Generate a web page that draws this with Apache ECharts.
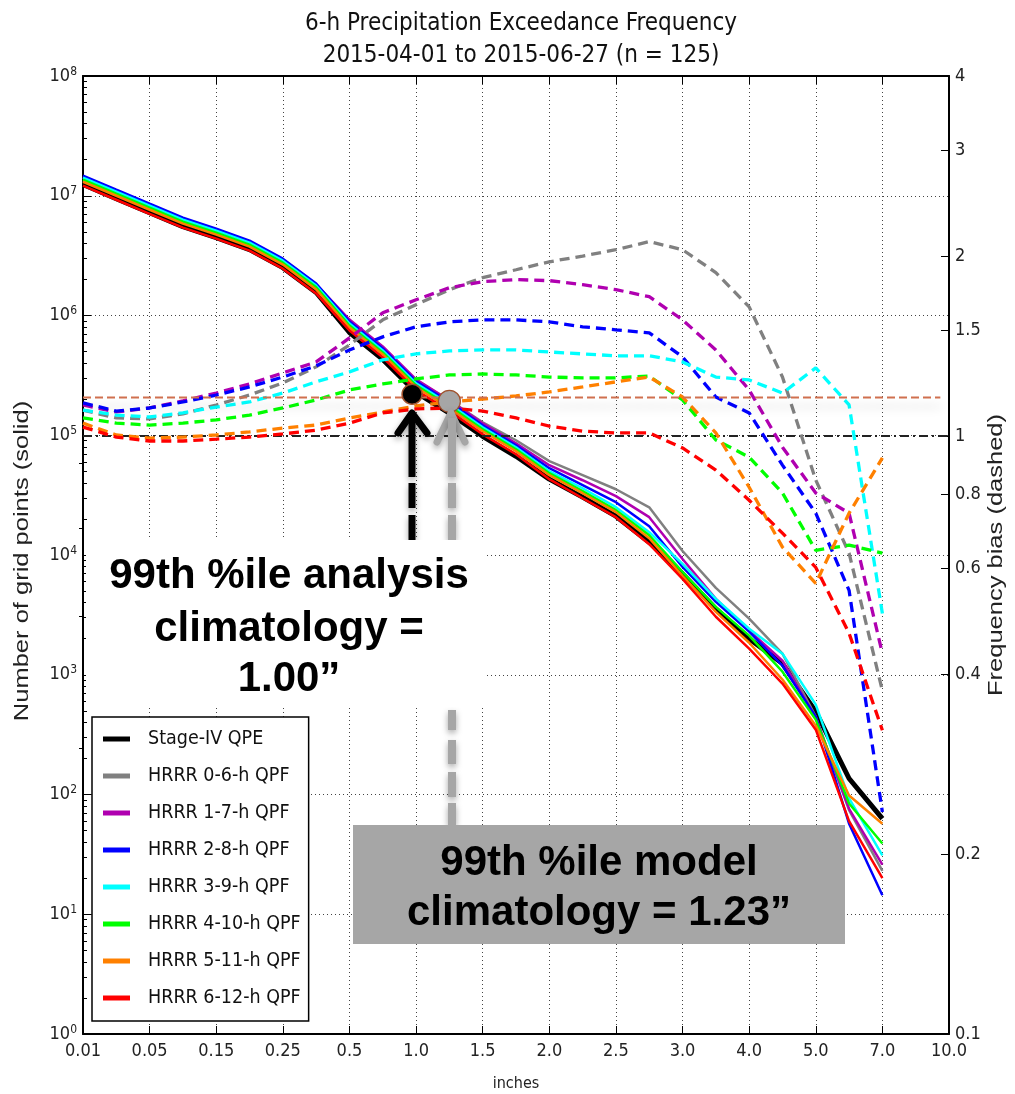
<!DOCTYPE html>
<html><head><meta charset="utf-8">
<script src="https://cdn.jsdelivr.net/npm/echarts@6/dist/echarts.min.js"></script>
<style>html,body{margin:0;padding:0;background:#fff}#c{width:1015px;height:1094px}</style>
</head><body><div id="c"></div>
<script>
// ---------------- data ----------------
const xTickLabels = ['0.01','0.05','0.15','0.25','0.5','1.0','1.5','2.0','2.5','3.0','4.0','5.0','7.0','10.0'];
// threshold positions on the (evenly spaced) inches axis, in tick units
const xPositions = [0,0.5,1,1.5,2,2.5,3,3.5,4,4.5,5,5.5,6,6.5,7,7.5,8,8.5,9,9.5,10,10.5,11,11.5,12];

const seriesNames = ['Stage-IV QPE','HRRR 0-6-h QPF','HRRR 1-7-h QPF','HRRR 2-8-h QPF','HRRR 3-9-h QPF','HRRR 4-10-h QPF','HRRR 5-11-h QPF','HRRR 6-12-h QPF'];
const seriesColors = ['#000000','#808080','#b000b0','#0000ff','#00ffff','#00ff00','#ff8000','#ff0000'];

// number of grid points (solid, left axis)
const stageIV = [1.24e7,9.44e6,7.21e6,5.52e6,4.47e6,3.55e6,2.51e6,1.56e6,7.21e5,4.30e5,2.28e5,1.53e5,9.8e4,6.68e4,4.30e4,3.04e4,2.11e4,1.28e4,6950,3550,2000,1240,492,136,63];
const hrrr06  = [1.335e7,1.02e7,7.79e6,5.96e6,4.83e6,3.83e6,2.71e6,1.68e6,8.74e5,5.31e5,2.87e5,1.96e5,1.28e5,9.08e4,6.08e4,4.64e4,3.54e4,2.50e4,10800,5310,2940,1500,447,74,23];
const hrrr17  = [1.441e7,1.101e7,8.41e6,6.44e6,5.21e6,4.14e6,2.93e6,1.82e6,9.25e5,5.52e5,2.93e5,1.96e5,1.257e5,8.57e4,5.62e4,4.21e4,3.10e4,2.07e4,9270,4300,2330,1310,438,76,26];
const hrrr28  = [1.47e7,1.122e7,8.57e6,6.56e6,5.31e6,4.22e6,2.98e6,1.85e6,8.90e5,5.31e5,2.82e5,1.89e5,1.21e5,8.25e4,5.31e4,3.83e4,2.76e4,1.74e4,7950,4060,2290,1190,447,57,14.4];
const hrrr39  = [1.414e7,1.08e7,8.25e6,6.31e6,5.11e6,4.06e6,2.87e6,1.78e6,8.57e5,5.11e5,2.71e5,1.82e5,1.165e5,7.94e4,5.01e4,3.61e4,2.51e4,1.55e4,8420,4300,2420,1500,563,93,31];
const hrrr410 = [1.361e7,1.039e7,7.94e6,6.08e6,4.92e6,3.91e6,2.76e6,1.72e6,8.25e5,4.92e5,2.61e5,1.75e5,1.121e5,7.64e4,4.82e4,3.41e4,2.37e4,1.46e4,7220,3690,2120,1060,422,84,39];
const hrrr511 = [1.309e7,1.0e7,7.64e6,5.85e6,4.73e6,3.76e6,2.66e6,1.65e6,7.94e5,4.73e5,2.51e5,1.68e5,1.079e5,7.35e4,4.64e4,3.28e4,2.28e4,1.38e4,6690,3350,1850,913,376,98,57];
const hrrr612 = [1.213e7,9.26e6,7.07e6,5.42e6,4.39e6,3.48e6,2.46e6,1.53e6,7.49e5,4.47e5,2.37e5,1.59e5,1.018e5,6.94e4,4.30e4,2.98e4,2.07e4,1.23e4,6320,3050,1650,844,348,60,20];

// frequency bias (dashed, right axis)
const bias06  = [1.105,1.072,1.068,1.089,1.127,1.171,1.227,1.305,1.420,1.564,1.658,1.757,1.840,1.897,1.956,2.0,2.049,2.114,2.049,1.876,1.644,1.255,0.844,0.637,0.375];
const bias17  = [1.127,1.097,1.114,1.145,1.180,1.222,1.275,1.330,1.459,1.607,1.690,1.770,1.812,1.826,1.819,1.791,1.757,1.710,1.564,1.393,1.194,0.958,0.803,0.743,0.433];
const bias28  = [1.136,1.101,1.114,1.140,1.171,1.208,1.255,1.310,1.393,1.465,1.523,1.552,1.564,1.564,1.552,1.523,1.505,1.488,1.356,1.162,1.093,0.894,0.743,0.552,0.235];
const bias39  = [1.105,1.084,1.076,1.093,1.118,1.140,1.180,1.232,1.280,1.341,1.372,1.388,1.393,1.393,1.382,1.372,1.362,1.362,1.330,1.255,1.241,1.180,1.300,1.127,0.505];
const bias410 = [1.072,1.051,1.043,1.051,1.064,1.084,1.114,1.149,1.194,1.222,1.246,1.265,1.270,1.265,1.255,1.251,1.251,1.260,1.149,0.985,0.922,0.803,0.644,0.657,0.637];
const bias511 = [1.051,1.004,0.992,0.996,1.004,1.016,1.031,1.043,1.072,1.097,1.123,1.140,1.153,1.167,1.185,1.208,1.232,1.255,1.162,1.012,0.821,0.652,0.567,0.743,0.919];
const bias612 = [1.035,0.996,0.981,0.981,0.988,0.996,1.008,1.023,1.051,1.093,1.110,1.114,1.101,1.072,1.039,1.019,1.012,1.012,0.955,0.877,0.781,0.688,0.603,0.468,0.322];

// axis tick labels
const leftMajorTicks = [1,1e1,1e2,1e3,1e4,1e5,1e6,1e7,1e8];
const rightTickLabels = [0.1,0.2,0.4,0.6,0.8,1,1.5,2,3,4];
const rightMinorTicks = [0.3,0.5,0.7,0.9];

// annotation values
const analysisCountLevel = 2.07e5;    // horizontal dashed reference (left axis)
const analysisLineEndX = 12.87;
const unityBias = 1;
const analysisMarker = [4.94, 2.2e5];   // 99th %ile analysis (1.00")
const modelMarker = [5.5, 1.92e5];      // 99th %ile model (1.23")

// ---------------- chart ----------------
const COND = "'DejaVu Sans Condensed','DejaVu Sans',sans-serif";
const ARIAL = "'Liberation Sans',Arial,sans-serif";
const zip = (vals) => xPositions.map((x, i) => [x, vals[i]]);

const countSets = [stageIV, hrrr06, hrrr17, hrrr28, hrrr39, hrrr410, hrrr511, hrrr612];
const biasSets = [bias06, bias17, bias28, bias39, bias410, bias511, bias612];

const leftMinor = [];
for (let e = 0; e < 8; e++) for (let m = 2; m <= 9; m++) leftMinor.push(m * Math.pow(10, e));

const series = [];
countSets.forEach((vals, i) => {
  series.push({
    name: seriesNames[i], type: 'line', xAxisIndex: 0, yAxisIndex: 0,
    data: zip(vals), symbol: 'none', silent: true, z: 2,
    lineStyle: { color: seriesColors[i], width: i === 0 ? 5 : 2.5 },
    itemStyle: { color: seriesColors[i] }
  });
});
// unity bias reference (dash-dot)
series.push({
  name: 'unity', type: 'line', xAxisIndex: 0, yAxisIndex: 1, symbol: 'none', silent: true, z: 3,
  data: [[0, unityBias], [13, unityBias]],
  lineStyle: { color: '#222', width: 2, type: [9, 4, 2, 4] }
});
biasSets.forEach((vals, i) => {
  series.push({
    name: seriesNames[i + 1] + ' bias', type: 'line', xAxisIndex: 0, yAxisIndex: 1,
    data: zip(vals), symbol: 'none', silent: true, z: 3,
    lineStyle: { color: seriesColors[i + 1], width: 3.3, type: [10, 6] }
  });
});
// 99th percentile count reference line
series.push({
  name: 'p99 level', type: 'line', xAxisIndex: 0, yAxisIndex: 0, symbol: 'none', silent: true, z: 4,
  data: [[0, analysisCountLevel], [analysisLineEndX, analysisCountLevel]],
  lineStyle: { color: '#d0704f', width: 2, type: [8, 4], shadowColor: 'rgba(0,0,0,0.25)', shadowBlur: 10, shadowOffsetY: 9 }
});
series.push({
  name: 'analysis marker', type: 'scatter', xAxisIndex: 0, yAxisIndex: 0, silent: true, z: 12,
  data: [analysisMarker], symbolSize: 20,
  itemStyle: { color: '#000', borderColor: '#a0522d', borderWidth: 1.5, opacity: 1 }
});
series.push({
  name: 'model marker', type: 'scatter', xAxisIndex: 0, yAxisIndex: 0, silent: true, z: 12,
  data: [modelMarker], symbolSize: 22,
  itemStyle: { color: '#a6a6a6', borderColor: '#a0522d', borderWidth: 1.2, opacity: 1 }
});

const arrowShadow = { shadowBlur: 6, shadowColor: 'rgba(0,0,0,0.35)', shadowOffsetY: 3 };
function seg(x, y1, y2, color, w) {
  return { type: 'line', z: 20, shape: { x1: x, y1: y1, x2: x, y2: y2 },
    style: Object.assign({ stroke: color, lineWidth: w, lineCap: 'butt' }, arrowShadow) };
}
const graphics = [
  // rotated axis titles (slightly compressed glyphs, as in the source image)
  { type: 'text', z: 5, x: 22, y: 561, rotation: Math.PI / 2, scaleY: 0.8,
    style: { text: 'Number of grid points (solid)', font: '25.5px ' + ARIAL, fill: '#222', align: 'center', verticalAlign: 'middle' } },
  { type: 'text', z: 5, x: 996, y: 555, rotation: Math.PI / 2, scaleY: 0.8,
    style: { text: 'Frequency bias (dashed)', font: '25.5px ' + ARIAL, fill: '#222', align: 'center', verticalAlign: 'middle' } },
  // arrows
  { type: 'polyline', z: 20, shape: { points: [[398, 433], [412, 413], [427, 433]] },
    style: Object.assign({ stroke: '#000', lineWidth: 7, lineCap: 'round', lineJoin: 'round', fill: null }, arrowShadow) },
  seg(412, 413, 477, '#000', 7), seg(412, 483, 508, '#000', 7), seg(412, 515, 540, '#000', 7),
  { type: 'polyline', z: 20, shape: { points: [[437, 442], [451, 413], [465, 442]] },
    style: Object.assign({ stroke: '#a6a6a6', lineWidth: 7, lineCap: 'round', lineJoin: 'round', fill: null }, arrowShadow) },
  seg(452, 418, 477, '#a6a6a6', 8), seg(452, 483, 508, '#a6a6a6', 8), seg(452, 515, 540, '#a6a6a6', 8),
  seg(452, 710, 730, '#a6a6a6', 8), seg(452, 740, 764, '#a6a6a6', 8), seg(452, 772, 797, '#a6a6a6', 8), seg(452, 803, 825, '#a6a6a6', 8),
  // white callout
  { type: 'rect', z: 30, shape: { x: 86, y: 540, width: 401, height: 167 }, style: { fill: '#fff' } },
  { type: 'text', z: 31, x: 289, y: 576, style: { text: '99th %ile analysis', font: 'bold 42px ' + ARIAL, fill: '#000', align: 'center', verticalAlign: 'middle' } },
  { type: 'text', z: 31, x: 289, y: 629, style: { text: 'climatology =', font: 'bold 42px ' + ARIAL, fill: '#000', align: 'center', verticalAlign: 'middle' } },
  { type: 'text', z: 31, x: 289, y: 679, style: { text: '1.00\u201D', font: 'bold 42px ' + ARIAL, fill: '#000', align: 'center', verticalAlign: 'middle' } },
  // gray callout
  { type: 'rect', z: 30, shape: { x: 353, y: 825, width: 492, height: 119 }, style: { fill: '#a6a6a6' } },
  { type: 'text', z: 31, x: 599, y: 863, style: { text: '99th %ile model', font: 'bold 42px ' + ARIAL, fill: '#000', align: 'center', verticalAlign: 'middle' } },
  { type: 'text', z: 31, x: 599, y: 913, style: { text: 'climatology = 1.23\u201D', font: 'bold 42px ' + ARIAL, fill: '#000', align: 'center', verticalAlign: 'middle' } }
];

const axisLineStyle = { color: '#000', width: 2 };
const option = {
  animation: false,
  backgroundColor: '#fff',
  textStyle: { fontFamily: COND },
  title: {
    text: '6-h Precipitation Exceedance Frequency\n2015-04-01 to 2015-06-27 (n = 125)',
    left: 516, top: 3, textAlign: 'center',
    textStyle: { fontFamily: COND, fontSize: 24, fontWeight: 'normal', color: '#111', lineHeight: 32 }
  },
  grid: { left: 83, right: 66, top: 76, bottom: 60, containLabel: false, outerBoundsMode: 'none' },
  legend: {
    data: seriesNames, orient: 'vertical', left: 92, top: 717,
    padding: [12, 8, 13, 11], itemGap: 17, itemWidth: 27, itemHeight: 5, icon: 'rect',
    backgroundColor: '#fff', borderColor: '#000', borderWidth: 1.5, borderRadius: 0,
    selectedMode: false, z: 25,
    textStyle: { fontFamily: COND, fontSize: 19.5, color: '#111', lineHeight: 20, padding: [0, 0, 0, 13] }
  },
  xAxis: [
    { type: 'value', position: 'bottom', min: 0, max: 13, interval: 1,
      name: 'inches', nameLocation: 'middle', nameGap: 42,
      nameTextStyle: { fontFamily: COND, fontSize: 16, color: '#222' },
      axisLine: { onZero: false, lineStyle: axisLineStyle },
      axisTick: { inside: true, length: 8, lineStyle: { color: '#000', width: 1 } },
      axisLabel: { fontFamily: COND, fontSize: 18, color: '#222', margin: 8,
        formatter: (v) => xTickLabels[Math.round(v)] || '' },
      splitLine: { show: true, lineStyle: { color: '#444', width: 1, type: [1, 3] } } },
    { type: 'value', position: 'top', min: 0, max: 13, interval: 1,
      axisLine: { onZero: false, lineStyle: axisLineStyle },
      axisTick: { inside: true, length: 8, lineStyle: { color: '#000', width: 1 } },
      axisLabel: { show: false }, splitLine: { show: false } }
  ],
  yAxis: [
    { type: 'log', logBase: 10, min: 1, max: 1e8, position: 'left',
      axisLine: { onZero: false, lineStyle: axisLineStyle },
      axisTick: { inside: true, length: 8, customValues: leftMajorTicks, lineStyle: { color: '#000' } },
      axisLabel: { customValues: leftMajorTicks, margin: 6,
        formatter: (v) => '{b|10}{s|' + Math.round(Math.log10(v)) + '}',
        rich: { b: { fontFamily: COND, fontSize: 18, color: '#222' },
                s: { fontFamily: COND, fontSize: 12, color: '#222', padding: [0, 0, 9, 0] } } },
      splitLine: { show: true, lineStyle: { color: '#444', width: 1, type: [1, 3] } } },
    { type: 'log', logBase: 10, min: 0.1, max: 4, position: 'right',
      axisLine: { onZero: false, lineStyle: axisLineStyle },
      axisTick: { inside: true, length: 8, customValues: rightTickLabels, lineStyle: { color: '#000' } },
      axisLabel: { customValues: rightTickLabels, margin: 6, fontFamily: COND, fontSize: 18, color: '#222',
        formatter: (v) => String(+v.toFixed(2)) },
      splitLine: { show: false } },
    { type: 'log', logBase: 10, min: 1, max: 1e8, position: 'left',
      axisLine: { show: false }, axisLabel: { show: false }, splitLine: { show: false },
      axisTick: { inside: true, length: 4, customValues: leftMinor, lineStyle: { color: '#000' } } },
    { type: 'log', logBase: 10, min: 0.1, max: 4, position: 'right',
      axisLine: { show: false }, axisLabel: { show: false }, splitLine: { show: false },
      axisTick: { inside: true, length: 4, customValues: rightMinorTicks, lineStyle: { color: '#000' } } }
  ],
  series: series,
  graphic: graphics
};

const chart = echarts.init(document.getElementById('c'), null, { renderer: 'canvas' });
chart.setOption(option);
</script>
</body></html>
